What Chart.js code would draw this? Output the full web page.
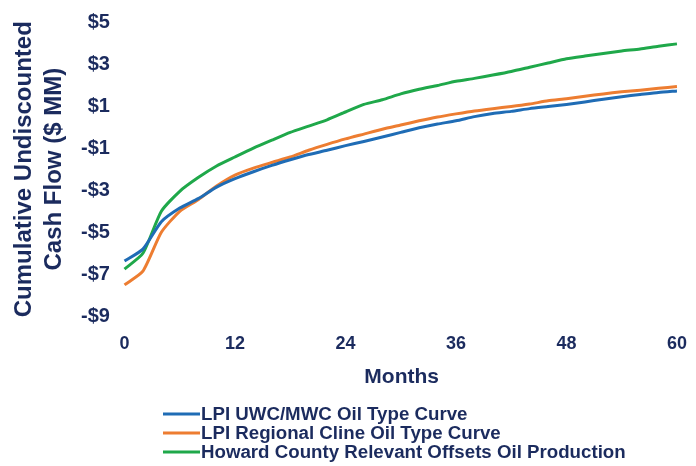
<!DOCTYPE html>
<html>
<head>
<meta charset="utf-8">
<script src="https://cdn.jsdelivr.net/npm/chart.js@4"></script>
<style>
  body { margin: 0; background: #fff; }
  #wrap { width: 696px; height: 466px; }
</style>
</head>
<body>
<div id="wrap"><canvas id="g_cashFlow"></canvas></div>
<script>
// months 0..60, every 2 months
const months = [0, 2, 4, 6, 8, 10, 12, 14, 16, 18, 20, 22, 24, 26, 28, 30,
    32, 34, 36, 38, 40, 42, 44, 46, 48, 50, 52, 54, 56, 58, 60];
const xTicks = [0, 12, 24, 36, 48, 60];

const uwcMwc = [-6.37, -5.80, -4.50, -3.85, -3.40, -2.85, -2.45, -2.12, -1.82, -1.55,
    -1.30, -1.10, -0.88, -0.68, -0.47, -0.25, -0.03, 0.15, 0.30, 0.50,
    0.65, 0.75, 0.88, 0.98, 1.08, 1.20, 1.33, 1.45, 1.55, 1.65, 1.72];
const regionalCline = [-7.50, -6.85, -5.00, -4.00, -3.45, -2.80, -2.28, -1.95, -1.68, -1.42,
    -1.10, -0.82, -0.56, -0.33, -0.10, 0.10, 0.30, 0.48, 0.63, 0.77,
    0.88, 0.98, 1.10, 1.25, 1.35, 1.47, 1.58, 1.68, 1.76, 1.85, 1.93];
const howardOffsets = [-6.75, -6.00, -4.00, -3.05, -2.40, -1.85, -1.42, -1.00, -0.62, -0.25,
    0.05, 0.35, 0.72, 1.08, 1.30, 1.58, 1.80, 1.98, 2.18, 2.32,
    2.48, 2.65, 2.85, 3.05, 3.25, 3.38, 3.50, 3.62, 3.72, 3.85, 3.96];

const seriesNames = [
    "LPI UWC/MWC Oil Type Curve",
    "LPI Regional Cline Oil Type Curve",
    "Howard County Relevant Offsets Oil Production"
];
const navy = '#1b2b5e';
const fontFam = '"Liberation Sans", Arial, sans-serif';

function toPoints(values) {
    return months.map(function(m, i) {
        return { x: m, y: values[i] };
    });
}

// legend drawn under the axis title, one row per series, left aligned
const stackedLegend = {
    id: 'stackedLegend',
    afterDraw(chart) {
        const ctx = chart.ctx;
        ctx.save();
        ctx.font = 'bold 18.7px ' + fontFam;
        ctx.textBaseline = 'middle';
        chart.data.datasets.forEach(function(ds, i) {
            const y = 414 + i * 19;
            ctx.strokeStyle = ds.borderColor;
            ctx.lineWidth = 3;
            ctx.beginPath();
            ctx.moveTo(163, y);
            ctx.lineTo(200, y);
            ctx.stroke();
            ctx.fillStyle = navy;
            ctx.fillText(ds.label, 201, y + 1);
        });
        ctx.restore();
    }
};

function drawChart() {
    const ctx = document.getElementById("g_cashFlow").getContext("2d");
    const colors = ['#1f6cb5', '#ed7d31', '#1fa84a'];
    const values = [uwcMwc, regionalCline, howardOffsets];
    let conData = {
        datasets: values.map(function(v, i) {
            return {
                label: seriesNames[i],
                data: toPoints(v),
                borderColor: colors[i],
                borderWidth: 3,
                pointRadius: 0,
                tension: 0.2,
                fill: false
            };
        })
    };
    let options = {
        responsive: true,
        maintainAspectRatio: false,
        animation: false,
        layout: { padding: { top: 3, right: 3, bottom: 78, left: 9 } },
        plugins: {
            legend: { display: false },
            tooltip: { enabled: false }
        },
        scales: {
            x: {
                type: 'linear',
                min: -0.5,
                max: 60.7,
                afterBuildTicks: function(scale) {
                    scale.ticks = xTicks.map(function(v) { return { value: v }; });
                },
                grid: { display: false },
                border: { display: false },
                ticks: {
                    color: navy,
                    padding: 9,
                    font: { family: fontFam, size: 18, weight: 'bold' }
                },
                title: {
                    display: true,
                    text: 'Months',
                    color: navy,
                    padding: { top: 3, bottom: 0 },
                    font: { family: fontFam, size: 21, weight: 'bold', lineHeight: 1.0 }
                }
            },
            y: {
                min: -9,
                max: 5,
                ticks: {
                    stepSize: 2,
                    color: navy,
                    padding: 10,
                    font: { family: fontFam, size: 20, weight: 'bold' },
                    callback: function(v) {
                        return (v < 0 ? '-$' : '$') + Math.abs(v);
                    }
                },
                grid: {
                    color: function(c) { return c.tick && c.tick.value === 0 ? '#cccccc' : 'rgba(0,0,0,0)'; },
                    lineWidth: 1,
                    drawTicks: false
                },
                border: { display: false },
                title: {
                    display: true,
                    text: ['Cumulative Undiscounted', 'Cash Flow ($ MM)'],
                    color: navy,
                    padding: { top: 0, bottom: 2 },
                    font: { family: fontFam, size: 24, weight: 'bold', lineHeight: 1.25 }
                }
            }
        }
    };
    const config = {
        type: 'line',
        data: conData,
        options: options,
        plugins: [stackedLegend]
    };
    const cashChart = new Chart(ctx, config);
}

window.addEventListener('load', () => {
    drawChart();
});
</script>
</body>
</html>
